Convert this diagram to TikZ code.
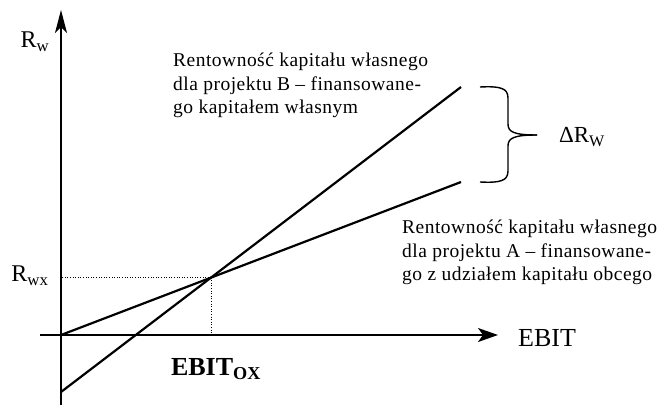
\documentclass[tikz,border=0pt]{standalone}
\usepackage{fontspec}
\setmainfont{Liberation Serif}
\usetikzlibrary{arrows.meta}

\tikzset{
  axis/.style={line width=1.4pt},
  curve/.style={line width=2.2pt},
  guide/.style={line width=0.6pt, dotted},
  desc/.style={align=left, inner sep=0pt,
    font=\fontsize{19.5}{23.5}\selectfont\addfontfeature{LetterSpace=2.5}},
  axlabel/.style={inner sep=0pt, font=\fontsize{24}{28}\selectfont},
}

\begin{document}
\begin{tikzpicture}[x=1pt,y=-1pt]
  \useasboundingbox (0,0) rectangle (669,409);

  % axes
  \coordinate (O) at (61,335);
  \coordinate (ybot) at (61,405);
  \coordinate (ytop) at (61,10);
  \coordinate (xleft) at (40,335);
  \coordinate (xright) at (498,335);
  \draw[axis, -{Stealth[length=23pt,width=12pt,inset=6pt]}] (ybot) -- (ytop);
  \draw[axis, -{Stealth[length=20pt,width=14pt,inset=5pt]}] (xleft) -- (xright);

  % profitability lines
  \coordinate (A0) at (61,335);
  \coordinate (A1) at (461,182);
  \coordinate (B0) at (61,392);
  \coordinate (B1) at (461,87);
  \draw[curve] (A0) -- (A1);
  \draw[curve] (B0) -- (B1);

  % break-even point and guides
  \coordinate (X) at (intersection of A0--A1 and B0--B1);
  \draw[guide] (X) -- (X -| O);
  \draw[guide] (X) -- (X |- O);

  % brace for the difference
  \coordinate (tip) at (537,135);
  \draw[line width=1.4pt] (480,87) .. controls (500,86) and (508,88) .. (508,98)
    -- (508,124) .. controls (508,132) and (514,135) .. (tip);
  \draw[line width=1.4pt] (480,182) .. controls (500,183) and (508,181) .. (508,171)
    -- (508,146) .. controls (508,138) and (514,135) .. (tip);

  % labels
  \node[axlabel] (rw) at (35,42) {R\textsubscript{w}};
  \node[axlabel] (rwx) at (30,276) {R\textsubscript{wx}};
  \node[axlabel, font=\fontsize{26}{30}\selectfont] (ebit) at (547,338) {EBIT};
  \node[axlabel, font=\fontsize{26}{30}\selectfont\bfseries] (ebitox) at (216,369) {EBIT\textsubscript{OX}};
  \node[axlabel, font=\fontsize{23}{28}\selectfont] (drw) at (582,137) {ΔR\textsubscript{W}};

  \node[desc, anchor=north west] (txtB) at (173,53)
    {Rentowność kapitału własnego\\dla projektu B – finansowane-\\go kapitałem własnym};
  \node[desc, anchor=north west] (txtA) at (402,220)
    {Rentowność kapitału własnego\\dla projektu A – finansowane-\\go z udziałem kapitału obcego};
\end{tikzpicture}
\end{document}
